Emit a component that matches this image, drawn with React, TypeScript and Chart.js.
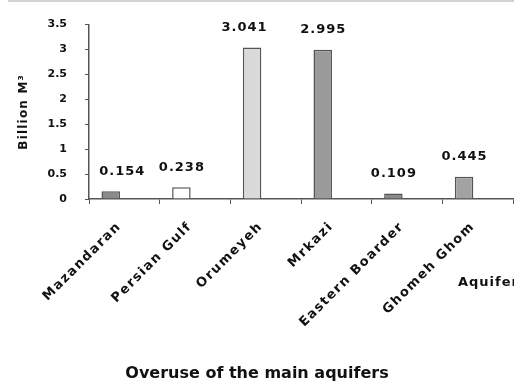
import React, { useEffect, useRef } from "react";
import { Chart, registerables } from "chart.js";

Chart.register(...registerables);

// Overuse per aquifer, billion cubic metres
const aquifers = ["Mazandaran", "Persian Gulf", "Orumeyeh", "Mrkazi", "Eastern Boarder", "Ghomeh Ghom"];
const overuse = [0.154, 0.238, 3.041, 2.995, 0.109, 0.445];
const valueLabels = ["0.154", "0.238", "3.041", "2.995", "0.109", "0.445"];
const emptySeries = [null, null, null, null, null, null];
const yMin = 0;
const yMax = 3.5;
const yStep = 0.5;

const chartTitle = "Overuse of the main aquifers";
const xTitle = "Aquifer";
const yTitle = "Billion M³";

const FONT = "'DejaVu Sans', Verdana, sans-serif";
const INK = "#111";
const barFills = ["#8a8a8a", "#ffffff", "#dadada", "#9a9a9a", "#8a8a8a", "#a2a2a2"];

// Wraps a scale's label/title drawing so each axis gets its own letter spacing
function spaceScale(scale: any, labelSpacing: string, titleSpacing: string) {
  if (!scale || scale.__spaced) return;
  const ctx = scale.ctx;
  const drawLabels = scale.drawLabels.bind(scale);
  const drawTitle = scale.drawTitle.bind(scale);
  scale.drawLabels = (area: any) => {
    ctx.save();
    ctx.letterSpacing = labelSpacing;
    drawLabels(area);
    ctx.restore();
  };
  scale.drawTitle = () => {
    ctx.save();
    ctx.letterSpacing = titleSpacing;
    drawTitle();
    ctx.restore();
  };
  scale.__spaced = true;
}

const spacingPlugin = {
  id: "spacing",
  afterLayout(chart: any) {
    spaceScale(chart.scales.x, "1.5px", "0px");
    spaceScale(chart.scales.y, "0px", "1.2px");
  },
  beforeDraw(chart: any) {
    const ctx = chart.ctx;
    ctx.save();
    ctx.fillStyle = "#d2d2d2";
    ctx.fillRect(8, 0, chart.width - 8, 2);
    ctx.restore();
  },
};

// Value labels above the bars, the x caption and the chart title
const labelsPlugin = {
  id: "valueLabels",
  afterDatasetsDraw(chart: any, _args: any, opts: any) {
    const ctx = chart.ctx;
    const meta = chart.getDatasetMeta(0);
    ctx.save();
    ctx.fillStyle = INK;
    ctx.textBaseline = "middle";

    ctx.letterSpacing = "1px";
    ctx.font = `bold 13px ${FONT}`;
    ctx.textAlign = "center";
    meta.data.forEach((bar: any, i: number) => {
      const shift = (opts.shifts && opts.shifts[i]) || 0;
      ctx.fillText(valueLabels[i], bar.x + shift + 0.5, bar.y - 20);
    });

    ctx.letterSpacing = "1px";
    ctx.font = `bold 13px ${FONT}`;
    ctx.textAlign = "left";
    ctx.fillText(xTitle, 458, 283);

    ctx.letterSpacing = "0px";
    ctx.font = `bold 16px ${FONT}`;
    ctx.textAlign = "center";
    ctx.fillText(chartTitle, 257, 374);
    ctx.restore();
  },
};

export default function App() {
  const canvasRef = useRef<HTMLCanvasElement | null>(null);

  useEffect(() => {
    const canvas = canvasRef.current;
    if (!canvas) return;
    Chart.defaults.color = INK;
    const chart = new Chart(canvas, {
      type: "bar",
      data: {
        labels: aquifers,
        datasets: [
          {
            label: "Overuse",
            data: overuse,
            backgroundColor: barFills,
            borderColor: "#555",
            borderWidth: 1.5,
            categoryPercentage: 0.77,
            barPercentage: 0.68,
          },
          {
            label: "",
            data: emptySeries,
            backgroundColor: "#fff",
            categoryPercentage: 0.77,
            barPercentage: 0.68,
          },
        ],
      },
      options: {
        responsive: false,
        animation: false,
        devicePixelRatio: 1,
        layout: { padding: { top: 24, right: 1, bottom: 0, left: 17 } },
        plugins: {
          legend: { display: false },
          tooltip: { enabled: false },
          title: { display: false },
          valueLabels: { shifts: [11, 0, -8, 0, 0, 0] },
        } as any,
        scales: {
          x: {
            grid: {
              display: true,
              offset: true,
              drawOnChartArea: false,
              tickLength: 5,
              color: "#555",
            },
            border: { display: true, color: "#555", width: 1.5 },
            ticks: {
              autoSkip: false,
              maxRotation: 45,
              minRotation: 45,
              padding: 15,
              labelOffset: -5,
              color: INK,
              font: { family: FONT, size: 13, weight: "bold" },
            },
            afterFit(scale: any) {
              scale.height = 384 - 199;
            },
          },
          y: {
            min: yMin,
            max: yMax,
            grid: {
              display: true,
              drawOnChartArea: false,
              tickLength: 4,
              color: "#555",
            },
            border: { display: true, color: "#555", width: 1.5 },
            ticks: {
              stepSize: yStep,
              padding: 18,
              color: INK,
              font: { family: FONT, size: 11, weight: "bold" },
              callback: (v: any) => String(v),
            },
            title: {
              display: true,
              text: yTitle,
              color: INK,
              font: { family: FONT, size: 12, weight: "bold" },
              padding: { top: 0, bottom: 0 },
            },
            afterFit(scale: any) {
              scale.width = 89 - 17;
            },
          },
        },
      },
      plugins: [spacingPlugin, labelsPlugin],
    });
    return () => chart.destroy();
  }, []);

  return (
    <div style={{ position: "fixed", left: 0, top: 0, width: 514, height: 384, background: "#fff" }}>
      <canvas ref={canvasRef} width={514} height={384} style={{ display: "block" }} />
    </div>
  );
}
